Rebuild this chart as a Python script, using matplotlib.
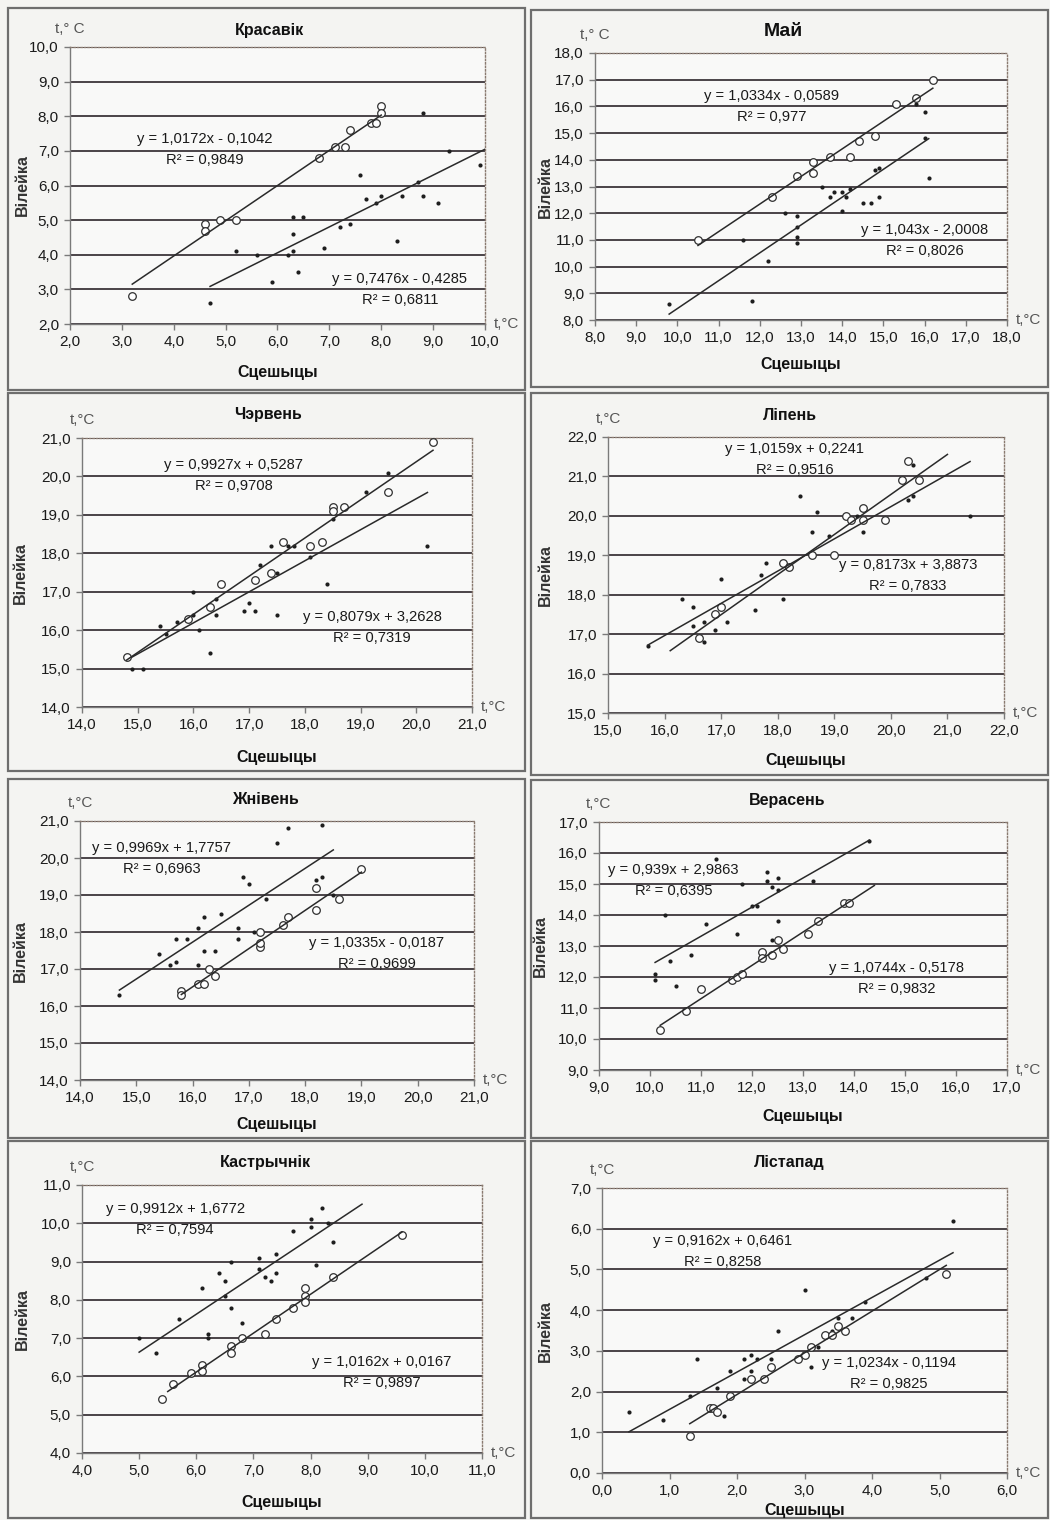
import matplotlib.pyplot as plt
import numpy as np
from matplotlib.patches import Rectangle
from matplotlib.ticker import FuncFormatter, MultipleLocator

plt.rcParams['font.family'] = ['Liberation Sans', 'DejaVu Sans']

W, H = 1050, 1520

months = ['Красавік', 'Май', 'Чэрвень', 'Ліпень', 'Жнівень', 'Верасень', 'Кастрычнік', 'Лістапад']
x_limits = [(2, 10), (8, 18), (14, 21), (15, 22), (14, 21), (9, 17), (4, 11), (0, 6)]
y_limits = [(2, 10), (8, 18), (14, 21), (15, 22), (14, 21), (9, 17), (4, 11), (0, 7)]

# Красавік
apr_open_x = [3.2, 4.6, 4.6, 4.9, 5.2, 6.8, 7.1, 7.3, 7.4, 7.8, 7.9, 8.0, 8.0]
apr_open_y = [2.8, 4.9, 4.7, 5.0, 5.0, 6.8, 7.1, 7.1, 7.6, 7.8, 7.8, 8.3, 8.1]
apr_dot_x = [4.7, 5.2, 5.6, 5.9, 6.2, 6.3, 6.3, 6.3, 6.4, 6.5, 6.9, 7.2, 7.4, 7.6, 7.7, 7.9,
             8.0, 8.3, 8.4, 8.7, 8.8, 8.8, 9.1, 9.3, 9.9]
apr_dot_y = [2.6, 4.1, 4.0, 3.2, 4.0, 5.1, 4.6, 4.1, 3.5, 5.1, 4.2, 4.8, 4.9, 6.3, 5.6, 5.5,
             5.7, 4.4, 5.7, 6.1, 8.1, 5.7, 5.5, 7.0, 6.6]

# Май
may_open_x = [10.5, 12.3, 12.9, 13.3, 13.3, 13.7, 14.2, 14.4, 14.8, 15.3, 15.8, 16.2]
may_open_y = [11.0, 12.6, 13.4, 13.5, 13.9, 14.1, 14.1, 14.7, 14.9, 16.1, 16.3, 17.0]
may_dot_x = [9.8, 11.6, 11.8, 12.2, 12.6, 12.9, 12.9, 12.9, 12.9, 13.5, 13.7, 13.8, 14.0, 14.0,
             14.1, 14.2, 14.5, 14.7, 14.8, 14.9, 14.9, 15.8, 16.0, 16.0, 16.1]
may_dot_y = [8.6, 11.0, 8.7, 10.2, 12.0, 11.9, 11.5, 11.1, 10.9, 13.0, 12.6, 12.8, 12.8, 12.1,
             12.6, 12.9, 12.4, 12.4, 13.6, 13.7, 12.6, 16.1, 15.8, 14.8, 13.3]

# Чэрвень
jun_open_x = [14.8, 15.9, 16.3, 16.5, 17.1, 17.4, 17.6, 18.1, 18.3, 18.5, 18.5, 18.7, 19.5, 20.3]
jun_open_y = [15.3, 16.3, 16.6, 17.2, 17.3, 17.5, 18.3, 18.2, 18.3, 19.2, 19.1, 19.2, 19.6, 20.9]
jun_dot_x = [14.9, 15.1, 15.4, 15.5, 15.7, 16.0, 16.0, 16.1, 16.3, 16.4, 16.4, 16.9, 17.0, 17.1,
             17.2, 17.4, 17.5, 17.5, 17.7, 17.8, 18.1, 18.4, 18.5, 19.1, 19.5, 20.2]
jun_dot_y = [15.0, 15.0, 16.1, 15.9, 16.2, 17.0, 16.4, 16.0, 15.4, 16.8, 16.4, 16.5, 16.7, 16.5,
             17.7, 18.2, 16.4, 17.5, 18.2, 18.2, 17.9, 17.2, 18.9, 19.6, 20.1, 18.2]

# Ліпень
jul_open_x = [16.6, 16.9, 17.0, 18.1, 18.2, 18.6, 19.0, 19.2, 19.3, 19.5, 19.5, 19.9, 20.2, 20.3, 20.5]
jul_open_y = [16.9, 17.5, 17.7, 18.8, 18.7, 19.0, 19.0, 20.0, 19.9, 20.2, 19.9, 19.9, 20.9, 21.4, 20.9]
jul_dot_x = [15.7, 16.3, 16.5, 16.5, 16.7, 16.7, 16.9, 17.0, 17.1, 17.6, 17.7, 17.8, 18.1, 18.4,
             18.6, 18.7, 18.9, 19.4, 19.5, 20.3, 20.4, 20.4, 21.4]
jul_dot_y = [16.7, 17.9, 17.7, 17.2, 17.3, 16.8, 17.1, 18.4, 17.3, 17.6, 18.5, 18.8, 17.9, 20.5,
             19.6, 20.1, 19.5, 20.0, 19.6, 20.4, 20.5, 21.3, 20.0]

# Жнівень
aug_open_x = [15.8, 15.8, 16.1, 16.2, 16.3, 16.4, 17.2, 17.2, 17.2, 17.6, 17.7, 18.2, 18.2, 18.6, 19.0]
aug_open_y = [16.4, 16.3, 16.6, 16.6, 17.0, 16.8, 18.0, 17.6, 17.7, 18.2, 18.4, 19.2, 18.6, 18.9, 19.7]
aug_dot_x = [14.7, 15.4, 15.6, 15.7, 15.7, 15.9, 16.1, 16.1, 16.2, 16.2, 16.4, 16.5, 16.8, 16.8,
             16.9, 17.0, 17.1, 17.3, 17.5, 17.7, 18.2, 18.3, 18.3, 18.5]
aug_dot_y = [16.3, 17.4, 17.1, 17.8, 17.2, 17.8, 18.1, 17.1, 18.4, 17.5, 17.5, 18.5, 18.1, 17.8,
             19.5, 19.3, 18.0, 18.9, 20.4, 20.8, 19.4, 20.9, 19.5, 19.0]

# Верасень
sep_open_x = [10.2, 10.7, 11.0, 11.6, 11.7, 11.8, 12.2, 12.2, 12.4, 12.5, 12.6, 13.1, 13.3, 13.8, 13.9]
sep_open_y = [10.3, 10.9, 11.6, 11.9, 12.0, 12.1, 12.8, 12.6, 12.7, 13.2, 12.9, 13.4, 13.8, 14.4, 14.4]
sep_dot_x = [10.1, 10.1, 10.3, 10.4, 10.5, 10.8, 11.1, 11.3, 11.7, 11.8, 12.0, 12.1, 12.3, 12.3,
             12.4, 12.4, 12.5, 12.5, 12.5, 13.2, 14.3]
sep_dot_y = [12.1, 11.9, 14.0, 12.5, 11.7, 12.7, 13.7, 15.8, 13.4, 15.0, 14.3, 14.3, 15.4, 15.1,
             14.9, 13.2, 15.2, 14.8, 13.8, 15.1, 16.4]

# Кастрычнік
oct_open_x = [5.4, 5.6, 5.9, 6.1, 6.1, 6.6, 6.6, 6.8, 7.2, 7.4, 7.7, 7.9, 7.9, 7.9, 8.4, 9.6]
oct_open_y = [5.4, 5.8, 6.1, 6.3, 6.15, 6.8, 6.6, 7.0, 7.1, 7.5, 7.8, 8.3, 8.1, 7.95, 8.6, 9.7]
oct_dot_x = [5.0, 5.3, 5.7, 6.1, 6.2, 6.2, 6.4, 6.5, 6.5, 6.6, 6.6, 6.8, 7.1, 7.1, 7.2, 7.3,
             7.4, 7.4, 7.7, 8.0, 8.0, 8.1, 8.2, 8.3, 8.4]
oct_dot_y = [7.0, 6.6, 7.5, 8.3, 7.1, 7.0, 8.7, 8.5, 8.1, 9.0, 7.8, 7.4, 9.1, 8.8, 8.6, 8.5,
             9.2, 8.7, 9.8, 10.1, 9.9, 8.9, 10.4, 10.0, 9.5]

# Лістапад
nov_open_x = [1.3, 1.6, 1.65, 1.7, 1.9, 2.2, 2.4, 2.5, 2.9, 3.0, 3.1, 3.3, 3.4, 3.5, 3.6, 5.1]
nov_open_y = [0.9, 1.6, 1.6, 1.5, 1.9, 2.3, 2.3, 2.6, 2.8, 2.9, 3.1, 3.4, 3.4, 3.6, 3.5, 4.9]
nov_dot_x = [0.4, 0.9, 1.3, 1.4, 1.6, 1.7, 1.8, 1.9, 2.1, 2.1, 2.2, 2.2, 2.3, 2.5, 2.6, 3.0,
             3.1, 3.2, 3.4, 3.5, 3.7, 3.9, 4.8, 5.2]
nov_dot_y = [1.5, 1.3, 1.9, 2.8, 1.6, 2.1, 1.4, 2.5, 2.8, 2.3, 2.9, 2.5, 2.8, 2.8, 3.5, 4.5,
             2.6, 3.1, 3.5, 3.8, 3.8, 4.2, 4.8, 6.2]

# trend lines: (slope, intercept, R2, x from, x to)
open_fits = [(1.0172, -0.1042, 0.9849, 3.2, 8.0), (1.0334, -0.0589, 0.977, 10.5, 16.2),
             (0.9927, 0.5287, 0.9708, 14.8, 20.3), (1.0159, 0.2241, 0.9516, 16.1, 21.0),
             (1.0335, -0.0187, 0.9699, 15.8, 19.0), (1.0744, -0.5178, 0.9832, 10.2, 14.4),
             (1.0162, 0.0167, 0.9897, 5.5, 9.6), (1.0234, -0.1194, 0.9825, 1.3, 5.1)]
dot_fits = [(0.7476, -0.4285, 0.6811, 4.7, 10.0), (1.043, -2.0008, 0.8026, 9.8, 16.1),
            (0.8079, 3.2628, 0.7319, 14.9, 20.2), (0.8173, 3.8873, 0.7833, 15.7, 21.4),
            (0.9969, 1.7757, 0.6963, 14.7, 18.5), (0.939, 2.9863, 0.6395, 10.1, 14.3),
            (0.9912, 1.6772, 0.7594, 5.0, 8.9), (0.9162, 0.6461, 0.8258, 0.4, 5.2)]

open_series = [(apr_open_x, apr_open_y), (may_open_x, may_open_y), (jun_open_x, jun_open_y),
               (jul_open_x, jul_open_y), (aug_open_x, aug_open_y), (sep_open_x, sep_open_y),
               (oct_open_x, oct_open_y), (nov_open_x, nov_open_y)]
dot_series = [(apr_dot_x, apr_dot_y), (may_dot_x, may_dot_y), (jun_dot_x, jun_dot_y),
              (jul_dot_x, jul_dot_y), (aug_dot_x, aug_dot_y), (sep_dot_x, sep_dot_y),
              (oct_dot_x, oct_dot_y), (nov_dot_x, nov_dot_y)]

# layout in pixels
frames = [(8, 8, 525, 390), (531, 10, 1048, 387), (8, 393, 525, 771), (531, 393, 1048, 775),
          (8, 779, 525, 1138), (531, 780, 1048, 1138), (8, 1141, 525, 1518), (531, 1141, 1048, 1518)]
plot_boxes = [(70, 47, 485, 324), (595, 53, 1007, 320), (82, 438, 472, 707), (608, 437, 1004, 713),
              (80, 821, 474, 1080), (599, 822, 1007, 1070), (82, 1185, 482, 1453), (602, 1188, 1007, 1473)]
title_pos = [(270, 30), (783, 32), (268, 415), (790, 415), (265, 800), (787, 800), (265, 1162), (789, 1162)]
ylabel_x = [22, 545, 20, 545, 20, 540, 22, 545]
xlabel_y = [372, 365, 757, 760, 1124, 1117, 1502, 1510]
# equation text positions (data coords): open fit, dot fit
open_eq_pos = [(4.6, 7.33), (12.28, 16.38), (16.72, 20.31), (18.3, 21.7),
               (19.27, 17.7), (14.83, 12.3), (9.25, 6.37), (4.25, 2.69)]
dot_eq_pos = [(8.36, 3.29), (16.0, 11.38), (19.21, 16.34), (20.3, 18.75),
              (15.45, 20.27), (10.46, 15.44), (5.63, 10.37), (1.79, 5.69)]


def fx(px):
    return px / W


def fy(py):
    return 1 - py / H


def comma(v, pos=None):
    return f"{v:.1f}".replace('.', ',')


def eq_text(a, b, r2):
    sign = '+' if b >= 0 else '-'
    line1 = f"y = {a}x {sign} {abs(b)}".replace('.', ',')
    line2 = f"R² = {r2}".replace('.', ',')
    return line1, line2


fig = plt.figure(figsize=(W / 100, H / 100), dpi=100)
fig.patch.set_facecolor('#f4f4f2')

for i in range(8):
    x0, y0, x1, y1 = frames[i]
    fig.add_artist(Rectangle((fx(x0), fy(y1)), fx(x1 - x0), (y1 - y0) / H,
                             transform=fig.transFigure, fill=False,
                             edgecolor='#6e6e6e', lw=1.6))

    l, t, r, b = plot_boxes[i]
    ax = fig.add_axes([fx(l), fy(b), fx(r - l), (b - t) / H])
    ax.set_facecolor('#f9f9f8')
    ax.set_xlim(*x_limits[i])
    ax.set_ylim(*y_limits[i])
    ax.xaxis.set_major_locator(MultipleLocator(1))
    ax.yaxis.set_major_locator(MultipleLocator(1))
    ax.xaxis.set_major_formatter(FuncFormatter(comma))
    ax.yaxis.set_major_formatter(FuncFormatter(comma))
    ax.yaxis.grid(True, color='#4a4448', lw=1.4)
    ax.set_axisbelow(True)
    for side in ['top', 'right']:
        ax.spines[side].set_linestyle((0, (1, 1.5)))
        ax.spines[side].set_color('#8a7a70')
        ax.spines[side].set_linewidth(1.0)
    for side in ['left', 'bottom']:
        ax.spines[side].set_color('#7a7a7a')
        ax.spines[side].set_linewidth(1.0)
    ax.tick_params(direction='out', length=4, width=1, color='#7a7a7a',
                   labelsize=11, labelcolor='#1a1a1a', pad=4)

    ox, oy = open_series[i]
    dx, dy = dot_series[i]
    ax.scatter(dx, dy, s=9, c='#1e1e1e', marker='o', lw=0, zorder=3, clip_on=False)
    ax.scatter(ox, oy, s=30, facecolors='white', edgecolors='#303030', lw=0.9, zorder=4, clip_on=False)

    for fits, pos in [(open_fits, open_eq_pos), (dot_fits, dot_eq_pos)]:
        a, c, r2, xa, xb = fits[i]
        xs = np.array([xa, xb])
        ax.plot(xs, a * xs + c, color='#2a2a2a', lw=1.1, zorder=5)
        l1, l2 = eq_text(a, c, r2)
        ax.text(pos[i][0], pos[i][1], l1, ha='center', va='center', fontsize=10.6,
                color='#1a1a1a', zorder=6)
        # R² line sits one text line below the equation
        ax.annotate(l2, xy=pos[i], xytext=(0, -21), textcoords='offset pixels',
                    ha='center', va='center', fontsize=10.6, color='#1a1a1a', zorder=6)

    tsize = 14 if months[i] == 'Май' else 11.5
    fig.text(fx(title_pos[i][0]), fy(title_pos[i][1]), months[i], ha='center', va='center',
             fontsize=tsize, fontweight='bold', color='#111111')
    top_unit = 't,° C' if i < 2 else 't,°C'
    ax.annotate(top_unit, xy=(0, 1), xycoords='axes fraction', xytext=(0, 18),
                textcoords='offset pixels', ha='center', va='center', fontsize=11, color='#555555')
    ax.annotate('t,°C', xy=(1, 0), xycoords='axes fraction', xytext=(9, 0),
                textcoords='offset pixels', ha='left', va='center', fontsize=11, color='#555555')
    fig.text(fx(ylabel_x[i]), fy((t + b) / 2), 'Вілейка', rotation=90, ha='center', va='center',
             fontsize=11.5, fontweight='bold', color='#333333')
    fig.text(fx((l + r) / 2), fy(xlabel_y[i]), 'Сцешыцы', ha='center', va='center',
             fontsize=11.5, fontweight='bold', color='#111111')

fig.savefig('out.png', dpi=100, facecolor=fig.get_facecolor())
